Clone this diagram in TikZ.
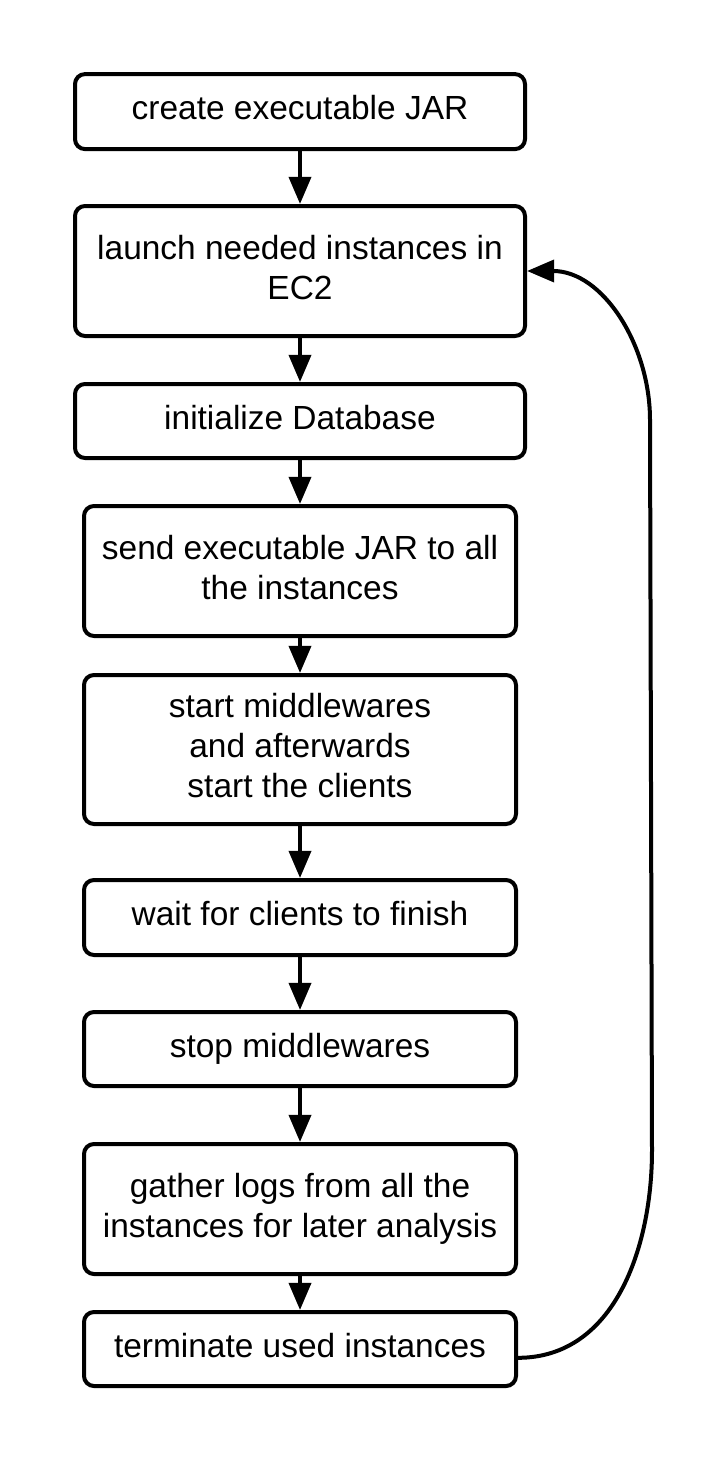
\documentclass[tikz,border=0pt]{standalone}
\usepackage{fontspec}
\setmainfont{Liberation Sans}
\usetikzlibrary{arrows.meta}

\begin{document}
\begin{tikzpicture}[>={Triangle[length=0.68cm, width=0.55cm]}, line width=0.1cm, align=center,
    block/.style={draw, rounded corners=0.25cm, inner sep=0pt, font=\fontsize{23.8}{28.5}\selectfont,
        execute at end node={\rule[-0.2cm]{0pt}{0pt}}},
    wide/.style={block, minimum width=11.25cm},
    narrow/.style={block, minimum width=10.8cm}]
    \useasboundingbox (0, 0) rectangle (18.15, -36.575);

    % BLOCKS
    \node (jar) at (7.5, -2.79) [wide, minimum height=1.875cm] {create executable JAR};
    \node (launch) at (7.5, -6.775) [wide, minimum height=3.25cm] {launch needed instances in\\EC2};
    \node (initdb) at (7.5, -10.525) [wide, minimum height=1.85cm] {initialize Database};
    \node (send) at (7.5, -14.275) [narrow, minimum height=3.25cm] {send executable JAR to all\\the instances};
    \node (start) at (7.5, -18.7375) [narrow, minimum height=3.725cm] {start middlewares\\and afterwards\\start the clients};
    \node (wait) at (7.5, -22.9375) [narrow, minimum height=1.875cm] {wait for clients to finish};
    \node (stop) at (7.5, -26.225) [narrow, minimum height=1.85cm] {stop middlewares};
    \node (gather) at (7.5, -30.225) [narrow, minimum height=3.25cm] {gather logs from all the\\instances for later analysis};
    \node (term) at (7.5, -33.725) [narrow, minimum height=1.85cm] {terminate used instances};

    % CONNEXIONS
    \draw[->] (jar) -- (launch);
    \draw[->] (launch) -- (initdb);
    \draw[->] (initdb) -- (send);
    \draw[->] (send) -- (start);
    \draw[->] (start) -- (wait);
    \draw[->] (wait) -- (stop);
    \draw[->] (stop) -- (gather);
    \draw[->] (gather) -- (term);

    % Loop back
    \coordinate (loopb) at (16.3, -28.75);
    \coordinate (loopt) at (16.25, -10.5);
    \draw[->] ([yshift=-0.22cm]term.east) to[out=0, in=-90] (loopb) -- (loopt) to[out=90, in=0] (launch.east);
\end{tikzpicture}
\end{document}
